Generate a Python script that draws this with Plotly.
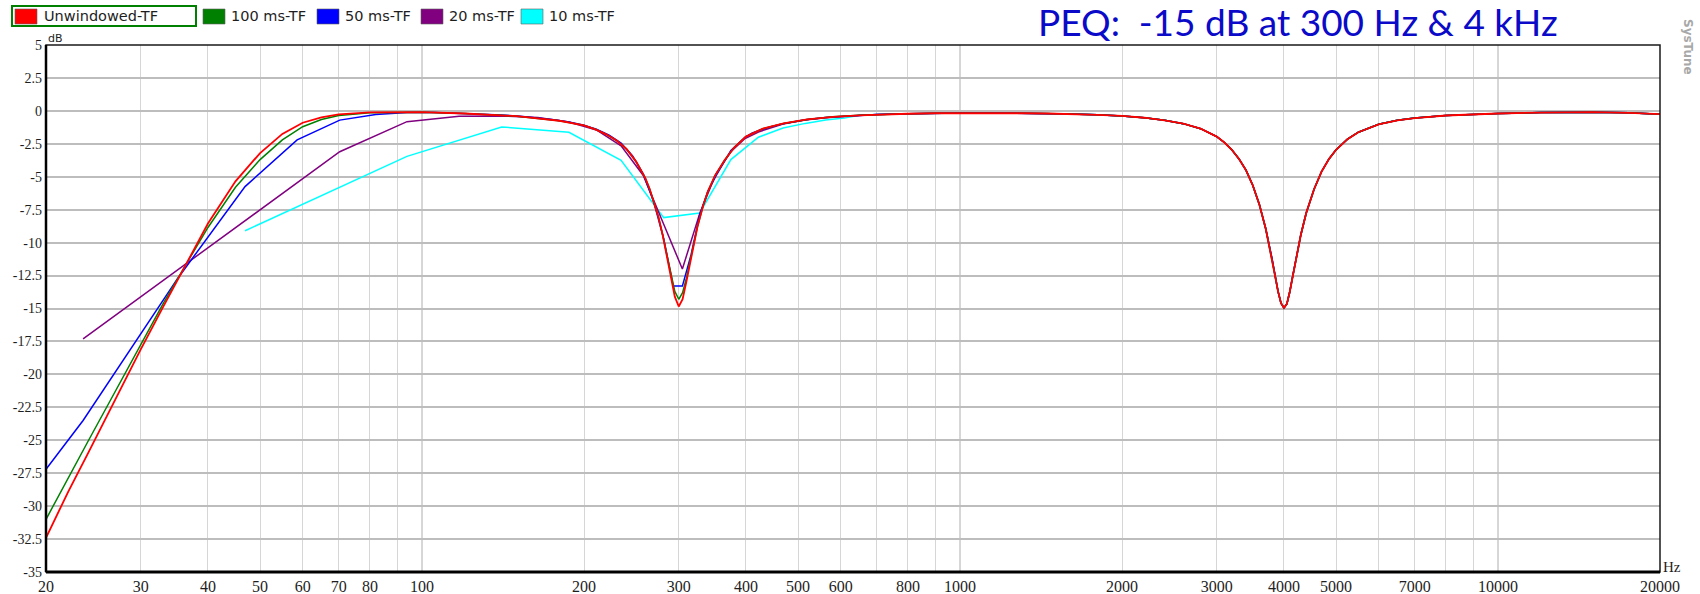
import plotly.graph_objects as go

# ---------------------------------------------------------------- data
# Magnitude responses (dB) of the transfer functions, by frequency (Hz).

# Unwindowed transfer function, low/mid range
red_freq = [20, 22, 24, 26, 28, 30, 33, 36.9, 40, 45, 50, 55, 60, 65, 70, 80, 90, 100,
            120, 150, 180, 200, 210, 220, 230, 240, 250, 260, 265, 270, 275, 280, 285,
            290, 295, 300, 305, 310, 315, 320, 325, 333, 340, 350, 365, 380, 400, 430,
            470, 520, 580]
red_db = [-32.4, -28.9, -25.9, -23.1, -20.5, -18.1, -14.9, -11.26, -8.55, -5.35, -3.2,
          -1.75, -0.9, -0.5, -0.27, -0.12, -0.08, -0.1, -0.2, -0.4, -0.75, -1.1, -1.4,
          -1.78, -2.25, -2.9, -3.85, -5.1, -5.95, -6.95, -8.05, -9.4, -10.95, -12.6,
          -14.1, -14.85, -14.3, -12.95, -11.45, -10.0, -8.8, -7.2, -6.1, -4.95, -3.75,
          -2.8, -1.95, -1.35, -0.95, -0.65, -0.45]

# 100 ms window
green_freq = [20, 22, 24, 26, 28, 30, 33, 36.9, 40, 45, 50, 55, 60, 65, 70, 80, 90, 100,
              120, 150, 180, 200, 210, 220, 230, 240, 250, 260, 265, 270, 275, 280, 285,
              290, 295, 300, 305, 310, 315, 320, 325, 333, 340, 350, 365, 380, 400, 430,
              470, 520, 580]
green_db = [-31.0, -27.8, -25.0, -22.4, -20.0, -17.7, -14.65, -11.26, -8.85, -5.8, -3.7,
            -2.2, -1.2, -0.65, -0.35, -0.15, -0.1, -0.1, -0.2, -0.4, -0.75, -1.1, -1.4,
            -1.78, -2.25, -2.9, -3.85, -5.1, -5.95, -6.95, -8.05, -9.4, -10.9, -12.4,
            -13.7, -14.3, -13.8, -12.7, -11.35, -10.0, -8.8, -7.2, -6.1, -4.95, -3.75,
            -2.8, -1.95, -1.35, -0.95, -0.65, -0.45]

# 50 ms window
blue_freq = [20, 23.44, 35.16, 46.88, 58.59, 70.31, 82.03, 93.75, 105.5, 117.2, 128.9,
             140.6, 152.3, 164.1, 175.8, 187.5, 199.2, 210.9, 222.7, 234.4, 246.1, 257.8,
             269.5, 281.3, 293.0, 304.7, 316.4, 328.1, 339.8, 351.6, 363.3, 375.0, 386.7,
             398.4, 410.2, 421.9, 445.3, 468.8, 515.6, 562.5, 609.4]
blue_db = [-27.2, -23.5, -12.7, -5.75, -2.2, -0.7, -0.27, -0.12, -0.12, -0.18, -0.25,
           -0.32, -0.4, -0.52, -0.68, -0.85, -1.08, -1.4, -1.85, -2.45, -3.4, -4.8, -6.9,
           -9.7, -13.3, -13.3, -10.9, -7.9, -6.1, -4.95, -4.0, -3.0, -2.5, -2.0, -1.7,
           -1.5, -1.2, -0.97, -0.68, -0.5, -0.4]

# 20 ms window
purple_freq = [23.44, 46.88, 70.31, 93.75, 117.2, 140.6, 164.1, 187.5, 210.9, 234.4,
               257.8, 281.3, 304.7, 328.1, 351.6, 375.0, 398.4, 421.9, 468.8, 515.6,
               562.5, 609.4]
purple_db = [-17.3, -8.3, -3.1, -0.82, -0.4, -0.38, -0.5, -0.85, -1.45, -2.65, -4.9,
             -8.6, -12.0, -7.8, -4.8, -3.1, -2.1, -1.6, -1.0, -0.7, -0.52, -0.42]

# 10 ms window
cyan_freq = [46.88, 93.75, 140.6, 187.5, 234.4, 281.3, 328.1, 375.0, 421.9, 468.8,
             515.6, 562.5, 609.4]
cyan_db = [-9.1, -3.45, -1.22, -1.62, -3.75, -8.1, -7.75, -3.7, -2.0, -1.3, -0.95,
           -0.7, -0.55]

# Upper range, where all windows give the same response
hf_freq = [650, 700, 800, 900, 1000, 1150, 1300, 1450, 1600, 1800, 2000, 2200, 2400,
           2600, 2800, 3000, 3100, 3200, 3300, 3400, 3500, 3600, 3700, 3800, 3850, 3900,
           3950, 4000, 4050, 4100, 4150, 4200, 4300, 4400, 4550, 4700, 4850, 5000, 5250,
           5500, 6000, 6500, 7000, 8000, 9000, 10000, 12000, 15000, 17500, 20000]
hf_db = [-0.34, -0.28, -0.22, -0.18, -0.17, -0.17, -0.18, -0.2, -0.23, -0.3, -0.38,
         -0.52, -0.72, -0.97, -1.35, -1.95, -2.4, -2.95, -3.65, -4.5, -5.65, -7.1, -8.95,
         -11.2, -12.5, -13.7, -14.6, -14.95, -14.65, -13.75, -12.6, -11.45, -9.4, -7.75,
         -5.95, -4.6, -3.65, -2.95, -2.15, -1.62, -1.02, -0.72, -0.55, -0.35, -0.25,
         -0.2, -0.13, -0.1, -0.15, -0.25]

series_names = ["Unwindowed-TF", "100 ms-TF", "50 ms-TF", "20 ms-TF", "10 ms-TF"]
series_colors = ["#ff0000", "#008000", "#0000ff", "#800080", "#00ffff"]

y_ticks = [5, 2.5, 0, -2.5, -5, -7.5, -10, -12.5, -15, -17.5, -20, -22.5, -25,
           -27.5, -30, -32.5, -35]
x_grid = [20, 30, 40, 50, 60, 70, 80, 90, 100, 200, 300, 400, 500, 600, 700, 800, 900,
          1000, 2000, 3000, 4000, 5000, 6000, 7000, 8000, 9000, 10000, 20000]
x_labelled = [20, 30, 40, 50, 60, 70, 80, 100, 200, 300, 400, 500, 600, 800, 1000,
              2000, 3000, 4000, 5000, 7000, 10000, 20000]
decade_lines = [100, 1000, 10000]

title_text = "PEQ:\u00a0 -15 dB at 300 Hz & 4 kHz"

# ---------------------------------------------------------------- layout geometry
W, H = 1700, 594
PL, PR, PT, PB = 46, 1660, 45, 572


def px(x):
    return (x - PL) / (PR - PL)


def py(y):
    return (PB - y) / (PB - PT)


fig = go.Figure()

curves = [
    (red_freq + hf_freq, red_db + hf_db),
    (green_freq + hf_freq, green_db + hf_db),
    (blue_freq + hf_freq, blue_db + hf_db),
    (purple_freq + hf_freq, purple_db + hf_db),
    (cyan_freq + hf_freq, cyan_db + hf_db),
]
widths = [1.8, 1.5, 1.5, 1.5, 1.5]

# draw the most heavily windowed curve first so the unwindowed one ends on top
for i in reversed(range(len(curves))):
    fx, fy = curves[i]
    fig.add_trace(go.Scatter(
        x=fx, y=fy, mode="lines", name=series_names[i],
        line=dict(color=series_colors[i], width=widths[i]),
        showlegend=False, hoverinfo="x+y+name",
    ))

shapes = []
# darker decade grid lines
for f in decade_lines:
    shapes.append(dict(type="line", xref="x", yref="paper", x0=f, x1=f, y0=0, y1=1,
                       line=dict(color="#a6a6a6", width=1), layer="below"))
# plot frame
shapes.append(dict(type="rect", xref="paper", yref="paper", x0=0, x1=1, y0=0, y1=1,
                   line=dict(color="#1a1a1a", width=1.5)))
shapes.append(dict(type="line", xref="paper", yref="paper", x0=0, x1=0, y0=0, y1=1,
                   line=dict(color="#000000", width=2.5)))
shapes.append(dict(type="line", xref="paper", yref="paper", x0=0, x1=1, y0=0, y1=0,
                   line=dict(color="#000000", width=3)))

annotations = []

# legend strip across the top-left
legend_sq_x = [15, 203, 317, 421, 521]
legend_tx_x = [42, 229, 343, 447, 547]
shapes.append(dict(type="rect", xref="paper", yref="paper", x0=px(12), x1=px(196),
                   y0=py(26), y1=py(6), line=dict(color="#008000", width=2),
                   fillcolor="rgba(0,0,0,0)"))
for i, name in enumerate(series_names):
    shapes.append(dict(type="rect", xref="paper", yref="paper",
                       x0=px(legend_sq_x[i]), x1=px(legend_sq_x[i] + 22),
                       y0=py(24), y1=py(9),
                       line=dict(color="#606060", width=0.6),
                       fillcolor=series_colors[i]))
    annotations.append(dict(xref="paper", yref="paper", x=px(legend_tx_x[i]), y=py(16.5),
                            xanchor="left", yanchor="middle", showarrow=False,
                            text=name,
                            font=dict(family="DejaVu Sans", size=14.5, color="#1e1e1e")))

annotations.append(dict(xref="paper", yref="paper", x=px(1298), y=py(22),
                        xanchor="center", yanchor="middle", showarrow=False,
                        text=title_text,
                        font=dict(family="Lato", size=37, color="#0a0ac8")))
annotations.append(dict(xref="paper", yref="paper", x=px(1688), y=py(47),
                        xanchor="center", yanchor="middle", showarrow=False,
                        text="<b>SysTune</b>", textangle=90,
                        font=dict(family="DejaVu Sans", size=12, color="#a8a8a8")))
annotations.append(dict(xref="paper", yref="paper", x=px(46), y=py(38),
                        xanchor="left", yanchor="middle", showarrow=False,
                        text="dB",
                        font=dict(family="DejaVu Sans", size=11, color="#1e1e1e")))
annotations.append(dict(xref="paper", yref="paper", x=px(1661), y=py(567),
                        xanchor="left", yanchor="middle", showarrow=False,
                        text="Hz",
                        font=dict(family="Liberation Serif", size=15, color="#1e1e1e")))

x_text = [str(v) if v in x_labelled else "" for v in x_grid]
y_text = [("%g" % v) for v in y_ticks]

fig.update_layout(
    width=W, height=H,
    margin=dict(l=PL, r=W - PR, t=PT, b=H - PB, pad=0),
    paper_bgcolor="white", plot_bgcolor="white",
    showlegend=False,
    shapes=shapes, annotations=annotations,
    xaxis=dict(type="log", range=[1.30103, 4.30103], automargin=False,
               tickmode="array", tickvals=x_grid, ticktext=x_text,
               showgrid=True, gridcolor="#d6d6d6", gridwidth=1,
               zeroline=False, showline=False, ticks="",
               ticklabelstandoff=3,
               tickfont=dict(family="Liberation Serif", size=16, color="#1e1e1e")),
    yaxis=dict(range=[-35, 5], automargin=False,
               tickmode="array", tickvals=y_ticks, ticktext=y_text,
               showgrid=True, gridcolor="#bdbdbd", gridwidth=2,
               zeroline=False, showline=False, ticks="",
               ticklabelstandoff=3,
               tickfont=dict(family="Liberation Serif", size=14, color="#1e1e1e")),
)

fig.write_html("out.html")
